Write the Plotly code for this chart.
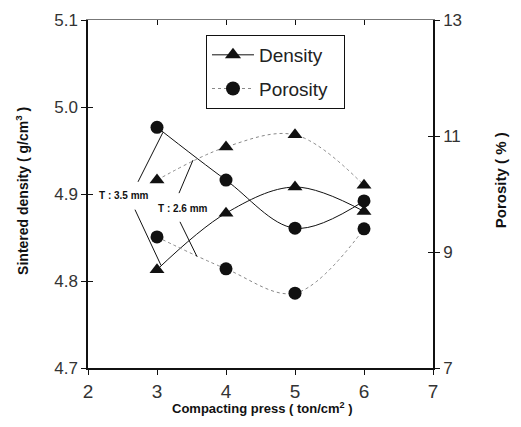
import plotly.graph_objects as go

press = [3, 4, 5, 6]
density_35 = [4.813, 4.878, 4.908, 4.880]
density_26 = [4.916, 4.954, 4.968, 4.910]
porosity_35 = [11.15, 10.24, 9.41, 9.88]
porosity_26 = [9.26, 8.71, 8.29, 9.40]

x_ticks = [2, 3, 4, 5, 6, 7]
y_ticks = [4.7, 4.8, 4.9, 5.0, 5.1]
y2_ticks = [7, 9, 11, 13]

BLACK = "#111"
GRAY = "#888"
FONT = "Liberation Sans"

fig = go.Figure()

# legend-only entries
fig.add_trace(go.Scatter(x=[None], y=[None], name="Density  ", mode="lines+markers",
                         legendgroup="d", line=dict(color=BLACK, width=1),
                         marker=dict(symbol="triangle-up", size=14, color=BLACK)))
fig.add_trace(go.Scatter(x=[None], y=[None], name="Porosity  ", mode="lines+markers",
                         legendgroup="p", line=dict(color=GRAY, width=1, dash="dot"),
                         marker=dict(symbol="circle", size=14, color=BLACK)))

# T: 3.5 mm (solid)
fig.add_trace(go.Scatter(x=press, y=density_35, mode="lines+markers", showlegend=False,
                         line=dict(color=BLACK, width=1, shape="spline"),
                         marker=dict(symbol="triangle-up", size=13, color=BLACK)))
fig.add_trace(go.Scatter(x=press, y=porosity_35, yaxis="y2", mode="lines+markers", showlegend=False,
                         line=dict(color=BLACK, width=1, shape="spline"),
                         marker=dict(symbol="circle", size=13, color=BLACK)))
# T: 2.6 mm (dotted)
fig.add_trace(go.Scatter(x=press, y=density_26, mode="lines+markers", showlegend=False,
                         line=dict(color=GRAY, width=1, dash="dot", shape="spline"),
                         marker=dict(symbol="triangle-up", size=13, color=BLACK)))
fig.add_trace(go.Scatter(x=press, y=porosity_26, yaxis="y2", mode="lines+markers", showlegend=False,
                         line=dict(color=GRAY, width=1, dash="dot", shape="spline"),
                         marker=dict(symbol="circle", size=13, color=BLACK)))

# invisible traces to anchor inner-tick overlay axes
fig.add_trace(go.Scatter(x=[None], y=[None], xaxis="x2", yaxis="y3", showlegend=False, hoverinfo="skip"))
fig.add_trace(go.Scatter(x=[None], y=[None], xaxis="x2", yaxis="y4", showlegend=False, hoverinfo="skip"))

tickfont = dict(family=FONT, size=17, color="#333")

fig.update_layout(
    width=521, height=427,
    margin=dict(l=88, r=88, t=20, b=59),
    plot_bgcolor="white", paper_bgcolor="white",
    xaxis=dict(range=[2, 7], tickvals=x_ticks, ticks="outside", ticklen=5, tickcolor=BLACK,
               showline=True, linecolor=BLACK, linewidth=1.5, showgrid=False, zeroline=False,
               tickfont=dict(family=FONT, size=19, color="#333")),
    xaxis2=dict(range=[2, 7], overlaying="x", tickvals=x_ticks, ticks="inside", ticklen=5,
                tickcolor=BLACK, showticklabels=False, showgrid=False, zeroline=False,
                showline=True, linecolor="#777", linewidth=1, side="top"),
    yaxis=dict(range=[4.7, 5.1], tickvals=y_ticks, tickformat=".1f", ticks="outside", ticklen=5,
               tickcolor=BLACK, showline=True, linecolor=BLACK, linewidth=1.5, showgrid=False,
               zeroline=False, tickfont=tickfont),
    yaxis2=dict(range=[7, 13], tickvals=y2_ticks, overlaying="y", side="right", ticks="outside",
                ticklen=5, tickcolor=BLACK, showline=True, linecolor=BLACK, linewidth=1.5,
                showgrid=False, zeroline=False, tickfont=tickfont),
    yaxis3=dict(range=[4.7, 5.1], tickvals=y_ticks, overlaying="y", side="left", ticks="inside",
                ticklen=5, tickcolor=BLACK, showticklabels=False, showgrid=False, zeroline=False),
    yaxis4=dict(range=[7, 13], tickvals=y2_ticks, overlaying="y", side="right", ticks="inside",
                ticklen=5, tickcolor=BLACK, showticklabels=False, showgrid=False, zeroline=False),
    legend=dict(x=0.342, y=0.957, xanchor="left", yanchor="top", bgcolor="white",
                bordercolor=BLACK, borderwidth=1, font=dict(family=FONT, size=19, color="#222"),
                itemwidth=42, tracegroupgap=6),
    showlegend=True,
)

# axis titles
fig.add_annotation(text="<b>Sintered density ( g/cm<sup>3</sup> )</b>", xref="paper", yref="paper",
                   x=-0.225, y=0.51, textangle=-90, showarrow=False,
                   font=dict(family=FONT, size=14, color=BLACK))
fig.add_annotation(text="<b>Porosity ( % )</b>", xref="paper", yref="paper",
                   x=1.225, y=0.54, textangle=-90, showarrow=False,
                   font=dict(family=FONT, size=15, color=BLACK))
fig.add_annotation(text="<b>Compacting press ( ton/cm<sup>2</sup> )</b>", xref="paper", yref="paper",
                   x=0.505, y=-0.115, yanchor="middle", showarrow=False,
                   font=dict(family=FONT, size=13, color=BLACK))

# T labels
fig.add_annotation(text="<b>T : 3.5 mm</b>", x=2.52, y=4.898, showarrow=False,
                   font=dict(family=FONT, size=10, color=BLACK))
fig.add_annotation(text="<b>T : 2.6 mm</b>", x=3.37, y=4.883, showarrow=False,
                   font=dict(family=FONT, size=10, color=BLACK))

# leader lines
leaders = [
    (3.087, 4.971, 2.725, 4.914),
    (2.681, 4.882, 3.058, 4.818),
    (3.522, 4.939, 3.319, 4.901),
    (3.333, 4.868, 3.580, 4.828),
]
for x0, y0, x1, y1 in leaders:
    fig.add_shape(type="line", x0=x0, y0=y0, x1=x1, y1=y1, xref="x", yref="y",
                  line=dict(color=BLACK, width=1))

fig.write_html("out.html")
